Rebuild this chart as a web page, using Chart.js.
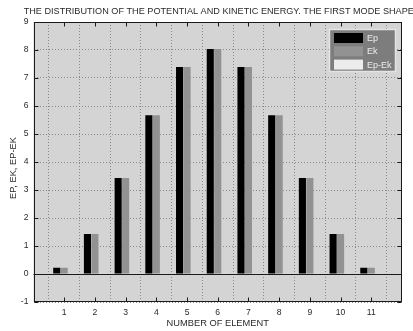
<!DOCTYPE html>
<html>
<head>
<meta charset="utf-8">
<script src="https://cdn.jsdelivr.net/npm/chart.js@4.4.1/dist/chart.umd.min.js"></script>
<style>
  html, body { margin: 0; padding: 0; background: #ffffff; }
  #wrap { width: 413px; height: 331px; }
</style>
</head>
<body>
<div id="wrap"><canvas id="c" width="413" height="331"></canvas></div>
<script>
// Element numbers along the beam
const elements = [1, 2, 3, 4, 5, 6, 7, 8, 9, 10, 11];
// Potential energy per element
const ep = [0.22, 1.43, 3.43, 5.67, 7.39, 8.04, 7.39, 5.67, 3.43, 1.43, 0.22];
// Kinetic energy per element
const ek = [0.22, 1.43, 3.43, 5.67, 7.39, 8.04, 7.39, 5.67, 3.43, 1.43, 0.22];
// Difference Ep - Ek (practically zero)
const epMinusEk = [0.03, 0.03, 0.03, 0.03, 0.03, 0.03, 0.03, 0.03, 0.03, 0.03, 0.03];

const seriesNames = ['Ep', 'Ek', 'Ep-Ek'];
const seriesColors = ['#000000', '#929292', '#ececec'];

const chartTitle = 'THE DISTRIBUTION OF THE POTENTIAL AND KINETIC ENERGY. THE FIRST MODE SHAPE';
const yTitle = 'EP, EK, EP-EK';

const FONT = 'Liberation Sans, Arial, sans-serif';
const TEXT = '#2a2a2a';
const PLOT_BG = '#d4d4d4';

const pairs = (vals) => elements.map((e, i) => ({ x: e, y: vals[i] }));

// Axes box, zero baseline, inward ticks, titles and the legend panel
const frame = {
  id: 'frame',
  beforeDraw(chart) {
    const { ctx, chartArea: a } = chart;
    ctx.save();
    ctx.fillStyle = PLOT_BG;
    ctx.fillRect(a.left, a.top, a.right - a.left, a.bottom - a.top);
    ctx.restore();
  },
  beforeDatasetsDraw(chart) {
    const { ctx, chartArea: a, scales } = chart;
    const y0 = Math.round(scales.y.getPixelForValue(0)) + 0.5;
    ctx.save();
    ctx.strokeStyle = '#1a1a1a';
    ctx.lineWidth = 1;
    ctx.beginPath();
    ctx.moveTo(a.left, y0);
    ctx.lineTo(a.right, y0);
    ctx.stroke();
    ctx.restore();
  },
  afterDatasetsDraw(chart) {
    const { ctx, chartArea: a, scales } = chart;
    ctx.save();
    ctx.strokeStyle = '#1a1a1a';
    ctx.lineWidth = 1;
    const L = Math.round(a.left) + 0.5, R = Math.round(a.right) - 0.5;
    const T = Math.round(a.top) + 0.5, B = Math.round(a.bottom) - 0.5;
    ctx.strokeRect(L, T, R - L, B - T);
    ctx.beginPath();
    scales.x.ticks.forEach(t => {
      if (t.value <= 0 || t.value >= 12) return;
      const px = Math.round(scales.x.getPixelForValue(t.value)) + 0.5;
      ctx.moveTo(px, B); ctx.lineTo(px, B - 4);
      ctx.moveTo(px, T); ctx.lineTo(px, T + 4);
    });
    scales.y.ticks.forEach(t => {
      const py = Math.round(scales.y.getPixelForValue(t.value)) + 0.5;
      ctx.moveTo(L, py); ctx.lineTo(L + 4, py);
      ctx.moveTo(R, py); ctx.lineTo(R - 4, py);
    });
    ctx.stroke();

    // chart title above the axes
    ctx.fillStyle = TEXT;
    ctx.textAlign = 'center';
    ctx.textBaseline = 'middle';
    ctx.font = '9.15px ' + FONT;
    ctx.fillText(chartTitle, (a.left + a.right) / 2 + 1, a.top - 11);

    // vertical axis title
    ctx.save();
    ctx.translate(a.left - 20, (a.top + a.bottom) / 2 + 6);
    ctx.rotate(-Math.PI / 2);
    ctx.font = '9.3px ' + FONT;
    ctx.fillText(yTitle, 0, 0);
    ctx.restore();

    // legend panel in the upper right corner of the axes
    const w = 67, h = 43;
    const x0 = a.right - 6 - w, y0 = a.top + 7;
    ctx.textAlign = 'left';
    ctx.fillStyle = '#7d7d7d';
    ctx.fillRect(x0, y0, w, h);
    ctx.strokeStyle = '#e4e4e4';
    ctx.lineWidth = 1.5;
    ctx.strokeRect(x0 + 0.5, y0 + 0.5, w - 1, h - 1);
    ctx.font = '9px ' + FONT;
    chart.data.datasets.forEach((ds, i) => {
      const sy = y0 + 4 + i * 13.3;
      ctx.fillStyle = ds.backgroundColor;
      ctx.fillRect(x0 + 5, sy, 29, 10);
      ctx.fillStyle = '#ececec';
      ctx.fillText(ds.label, x0 + 38, sy + 5.5);
    });
    ctx.restore();
  }
};

new Chart(document.getElementById('c'), {
  type: 'bar',
  data: {
    datasets: seriesNames.map((name, i) => ({
      label: name,
      data: pairs([ep, ek, epMinusEk][i]),
      backgroundColor: seriesColors[i],
      borderWidth: 0,
      categoryPercentage: 0.73,
      barPercentage: 0.95
    }))
  },
  options: {
    responsive: false,
    animation: false,
    devicePixelRatio: 1,
    layout: { padding: { left: 0, right: 11, top: 22, bottom: 0 } },
    plugins: {
      legend: { display: false },
      tooltip: { enabled: false },
      title: { display: false }
    },
    scales: {
      x: {
        type: 'linear',
        min: 0,
        max: 12,
        offset: false,
        grid: { color: '#8a8a8a', lineWidth: 1, drawTicks: false },
        border: { display: false, dash: [1, 2] },
        ticks: {
          stepSize: 1,
          color: TEXT,
          padding: 5,
          font: { family: FONT, size: 8.6 },
          callback: (v) => (v >= 1 && v <= 11) ? String(v) : ''
        },
        title: {
          display: true,
          text: 'NUMBER OF ELEMENT',
          color: TEXT,
          font: { family: FONT, size: 9.3 },
          padding: { top: 0, bottom: 2 }
        },
        afterFit(s) { s.height = 29; }
      },
      y: {
        min: -1,
        max: 9,
        grid: { color: '#8a8a8a', lineWidth: 1, drawTicks: false },
        border: { display: false, dash: [1, 2] },
        ticks: {
          stepSize: 1,
          color: TEXT,
          padding: 5,
          font: { family: FONT, size: 8.6 }
        },
        afterFit(s) { s.width = 33.5; }
      }
    }
  },
  plugins: [frame]
});
</script>
</body>
</html>
